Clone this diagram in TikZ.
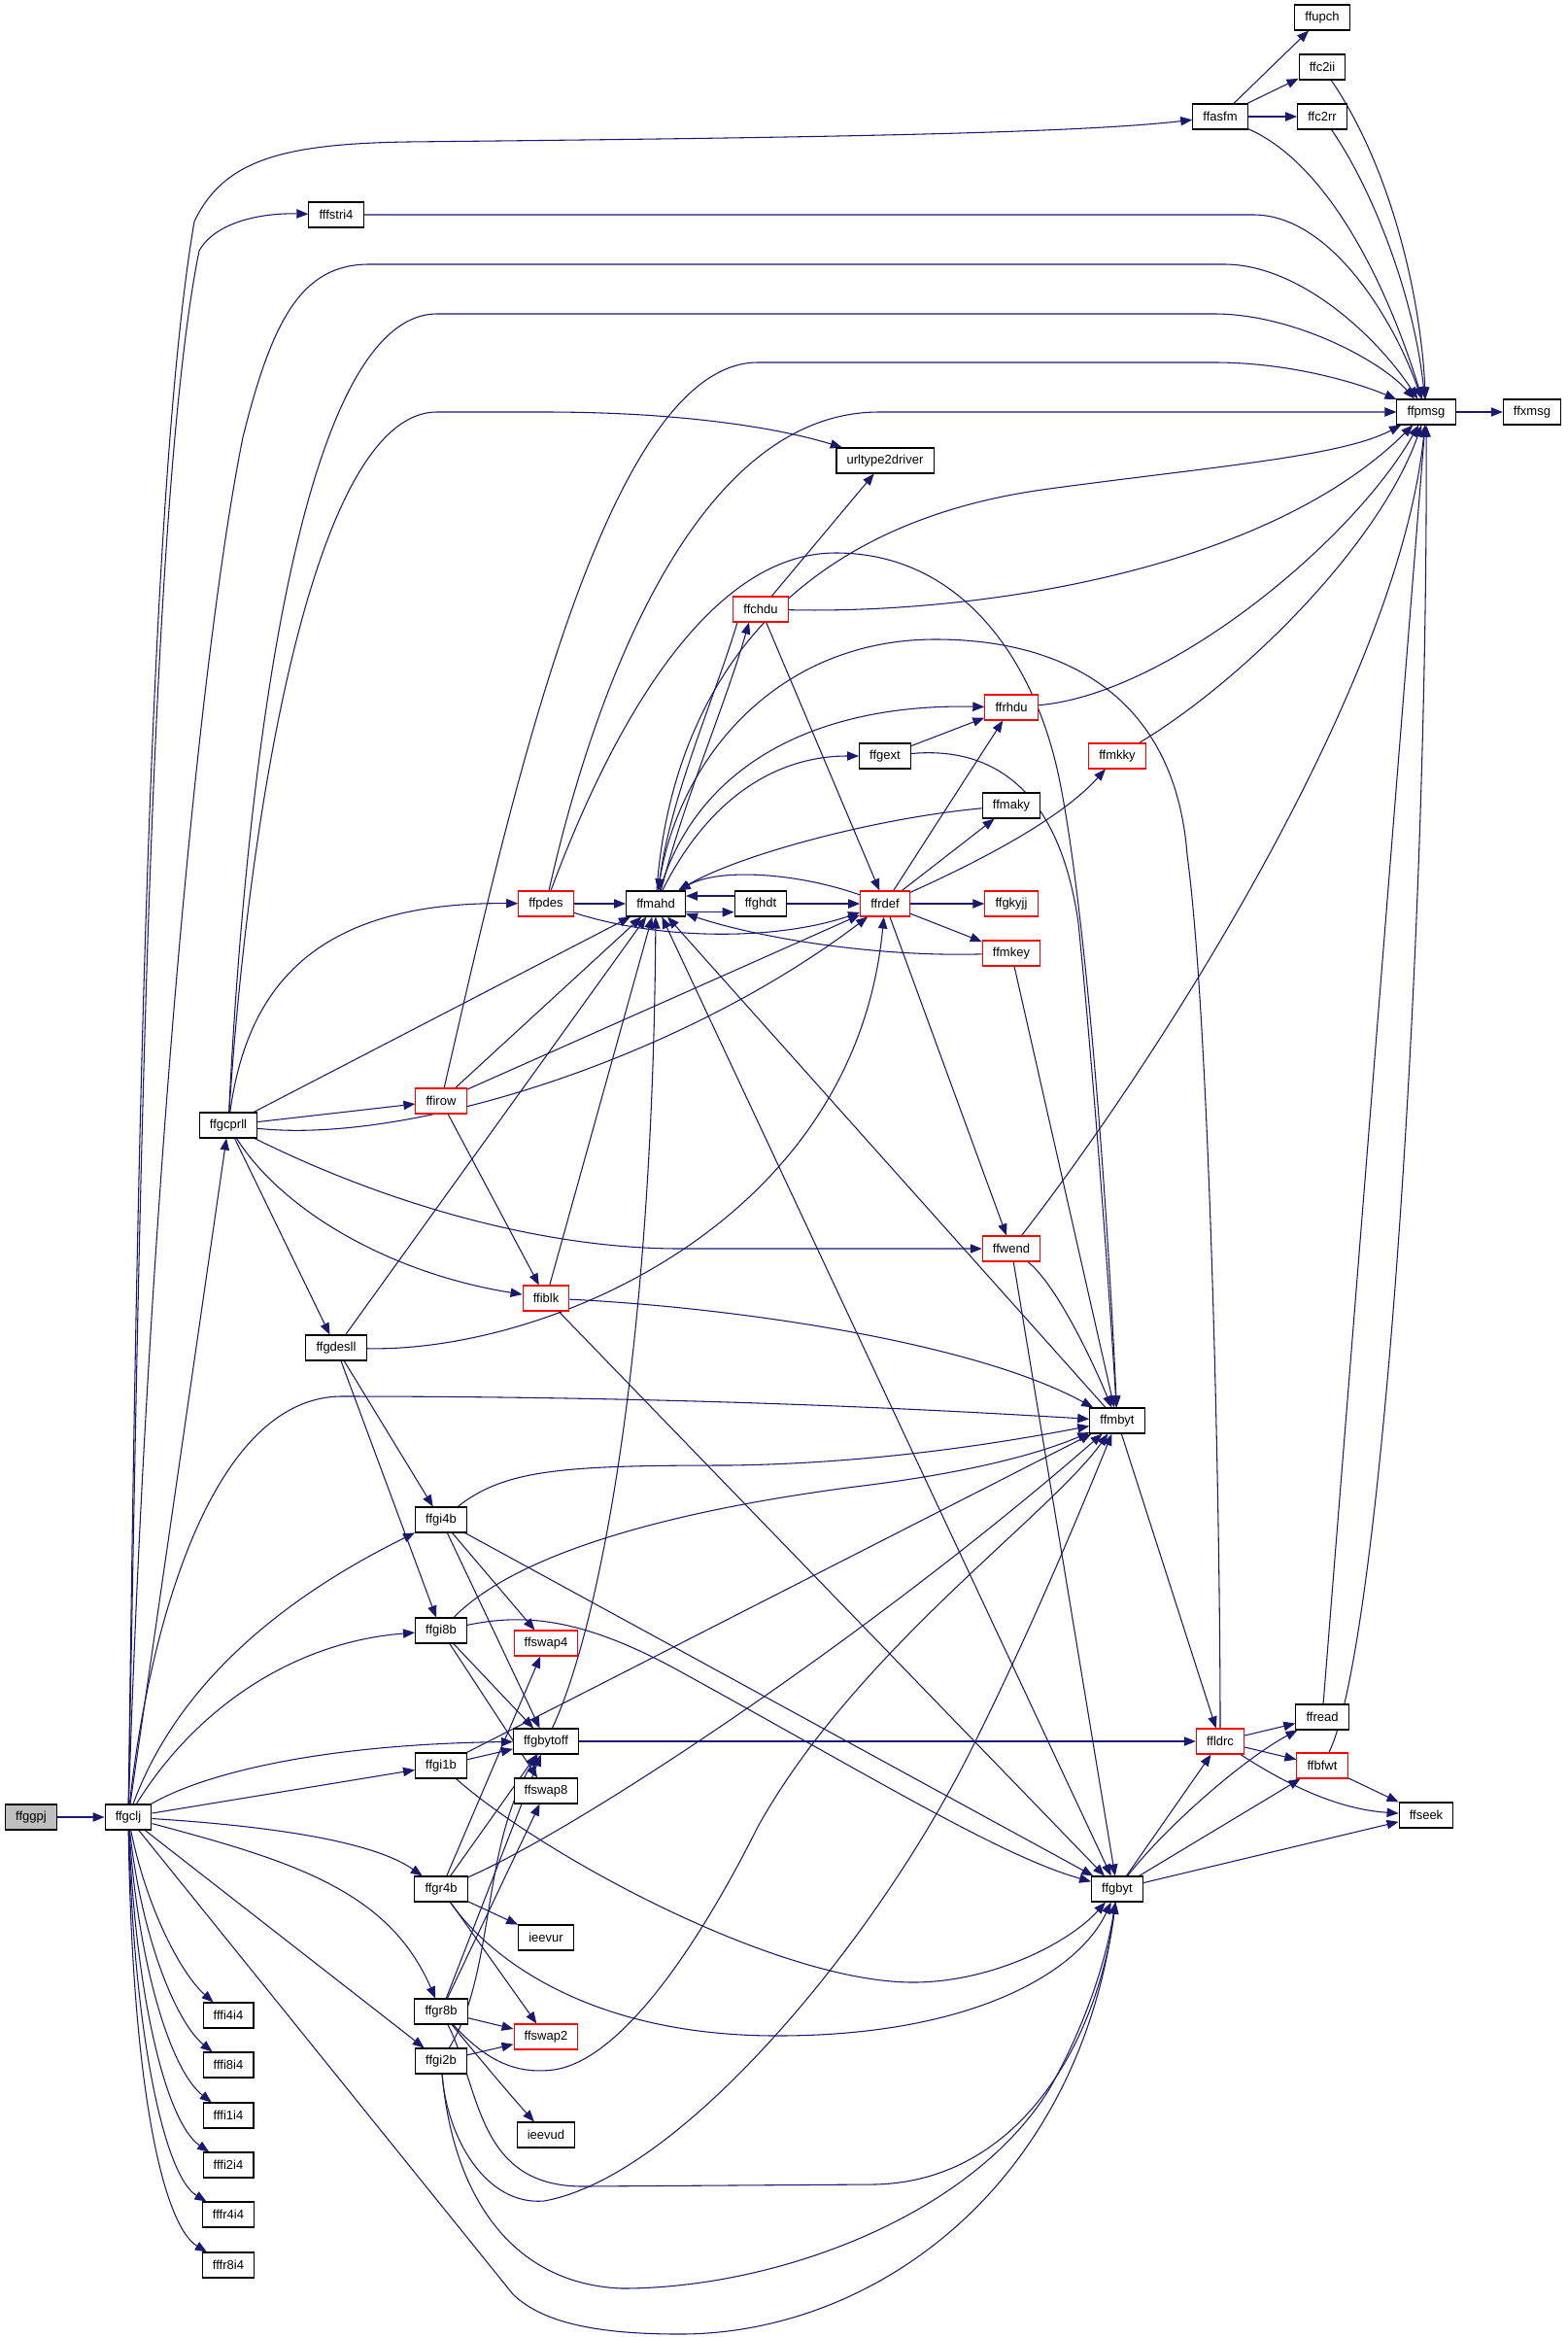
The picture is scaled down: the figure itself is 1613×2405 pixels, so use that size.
\documentclass[tikz,border=0pt]{standalone}
\usepackage{fontspec}
\setmainfont{Liberation Sans}
\usetikzlibrary{arrows.meta}
\definecolor{edgec}{HTML}{191970}
\definecolor{nodegray}{HTML}{BFBFBF}
\definecolor{nodered}{HTML}{FF0000}
\pgfdeclarelayer{back}
\pgfdeclarelayer{edges}
\pgfsetlayers{back,edges,main}
\begin{document}
\begin{tikzpicture}[x=0.75pt,y=-0.75pt,
  >={Triangle[length=9pt,width=7pt]},
  box/.style={draw=black, line width=0.8pt, fill=white, inner xsep=8pt, inner ysep=0pt,
    minimum height=19.5pt, font=\fontsize{9.75pt}{11pt}\selectfont},
  redbox/.style={box, draw=nodered},
  graybox/.style={box, fill=nodegray},
  e/.style={draw=edgec, line width=0.8pt, ->},
  ee/.style={draw=edgec, line width=0.8pt, <->}]
\useasboundingbox (0,0) rectangle (1613,2405);
\begin{pgfonlayer}{back}
\fill[white] (0,0) rectangle (1613,2405);
\end{pgfonlayer}
% ---------------- nodes ----------------
\node[graybox] (ffggpj) at (32,1870) {ffggpj};
\node[box] (ffgclj) at (132,1870) {ffgclj};
\node[box] (ffgcprll) at (235,1158) {ffgcprll};
\node[box] (fffi4i4) at (235,2074) {fffi4i4};
\node[box] (fffi8i4) at (235,2125) {fffi8i4};
\node[box] (fffi1i4) at (235,2177) {fffi1i4};
\node[box] (fffi2i4) at (235,2228) {fffi2i4};
\node[box] (fffr4i4) at (235,2279) {fffr4i4};
\node[box] (fffr8i4) at (235,2331) {fffr8i4};
\node[box] (fffstri4) at (346,221) {fffstri4};
\node[box] (ffgdesll) at (346,1387) {ffgdesll};
\node[redbox] (ffirow) at (454,1133) {ffirow};
\node[box] (ffgi4b) at (454,1564) {ffgi4b};
\node[box] (ffgi8b) at (454,1678) {ffgi8b};
\node[box] (ffgi1b) at (454,1817) {ffgi1b};
\node[box] (ffgr4b) at (454,1944) {ffgr4b};
\node[box] (ffgr8b) at (454,2070) {ffgr8b};
\node[box] (ffgi2b) at (454,2121) {ffgi2b};
\node[redbox] (ffpdes) at (562,930) {ffpdes};
\node[redbox] (ffiblk) at (562,1336) {ffiblk};
\node[redbox] (ffswap4) at (562,1691) {ffswap4};
\node[box] (ffgbytoff) at (562,1792) {ffgbytoff};
\node[box] (ffswap8) at (562,1843) {ffswap8};
\node[box] (ieevur) at (562,1994) {ieevur};
\node[redbox] (ffswap2) at (562,2096) {ffswap2};
\node[box] (ieevud) at (562,2197) {ieevud};
\node[box] (ffmahd) at (675,930) {ffmahd};
\node[redbox] (ffchdu) at (783,627) {ffchdu};
\node[box] (ffghdt) at (783,930) {ffghdt};
\node[box] (urltype2driver) at (911,474) {urltype2driver};
\node[box] (ffgext) at (911,778) {ffgext};
\node[redbox] (ffrdef) at (911,930) {ffrdef};
\node[redbox] (ffrhdu) at (1041,728) {ffrhdu};
\node[box] (ffmaky) at (1041,829) {ffmaky};
\node[redbox] (ffgkyjj) at (1041,930) {ffgkyjj};
\node[redbox] (ffmkey) at (1041,981) {ffmkey};
\node[redbox] (ffwend) at (1041,1285) {ffwend};
\node[redbox] (ffmkky) at (1150,778) {ffmkky};
\node[box] (ffmbyt) at (1150,1462) {ffmbyt};
\node[box] (ffgbyt) at (1150,1944) {ffgbyt};
\node[box] (ffasfm) at (1256,120) {ffasfm};
\node[redbox] (ffldrc) at (1256,1792) {ffldrc};
\node[box] (ffupch) at (1361,18) {ffupch};
\node[box] (ffc2ii) at (1361,69) {ffc2ii};
\node[box] (ffc2rr) at (1361,120) {ffc2rr};
\node[box] (ffread) at (1361,1767) {ffread};
\node[redbox] (ffbfwt) at (1361,1817) {ffbfwt};
\node[box] (ffpmsg) at (1468,424) {ffpmsg};
\node[box] (ffseek) at (1468,1868) {ffseek};
\node[box] (ffxmsg) at (1577,424) {ffxmsg};
% ---------------- edges ----------------
\begin{pgfonlayer}{edges}
\draw[e] (ffggpj) -- (ffgclj);
% ffgclj
\draw[e] (ffgclj) .. controls (140,1300) and (150,520) .. (200,228) .. controls (230,165) and (290,148) .. (420,146) .. controls (800,142) and (1100,138) .. (ffasfm);
\draw[e] (ffgclj) .. controls (143,1300) and (152,520) .. (205,258) .. controls (222,228) and (270,219) .. (fffstri4);
\draw[e] (ffgclj) .. controls (150,1300) and (200,700) .. (250,450) .. controls (280,330) and (310,272) .. (380,272) -- (1260,272) .. controls (1340,272) and (1420,350) .. (ffpmsg);
\draw[e] (ffgclj) -- (ffgcprll);
\draw[e] (ffgclj) .. controls (150,1700) and (210,1440) .. (350,1437) .. controls (700,1437) and (950,1450) .. (ffmbyt);
\draw[e] (ffgclj) .. controls (180,1740) and (280,1650) .. (ffgi4b);
\draw[e] (ffgclj) .. controls (200,1760) and (300,1690) .. (ffgi8b);
\draw[e] (ffgclj) .. controls (210,1825) and (330,1795) .. (ffgbytoff);
\draw[e] (ffgclj) -- (ffgi1b);
\draw[e] (ffgclj) .. controls (260,1878) and (380,1892) .. (ffgr4b);
\draw[e] (ffgclj) .. controls (300,1915) and (400,1945) .. (ffgr8b);
\draw[e] (ffgclj) -- (ffgi2b);
\draw[e] (ffgclj) -- (528,2361) .. controls (560,2392) and (620,2402) .. (700,2402) .. controls (900,2402) and (1110,2250) .. (ffgbyt);
\draw[e] (ffgclj) .. controls (150,1960) and (185,2030) .. (fffi4i4);
\draw[e] (ffgclj) .. controls (145,1990) and (180,2080) .. (fffi8i4);
\draw[e] (ffgclj) .. controls (142,2020) and (175,2130) .. (fffi1i4);
\draw[e] (ffgclj) .. controls (140,2060) and (172,2185) .. (fffi2i4);
\draw[e] (ffgclj) .. controls (138,2100) and (170,2240) .. (fffr4i4);
\draw[e] (ffgclj) .. controls (136,2150) and (168,2290) .. (fffr8i4);
% fffstri4
\draw[e] (fffstri4) -- (1290,221) .. controls (1370,221) and (1435,330) .. (ffpmsg);
% ffgcprll
\draw[e] (ffgcprll) .. controls (250,850) and (300,323) .. (450,323) -- (1250,323) .. controls (1330,323) and (1420,370) .. (ffpmsg);
\draw[e] (ffgcprll) .. controls (255,850) and (320,424) .. (450,424) -- (560,424) .. controls (700,424) and (800,440) .. (urltype2driver);
\draw[e] (ffgcprll) .. controls (255,1010) and (330,928) .. (ffpdes);
\draw[e] (ffgcprll) -- (ffmahd);
\draw[e] (ffgcprll) -- (ffirow);
\draw[e] (ffgcprll) .. controls (420,1178) and (700,1090) .. (ffrdef);
\draw[e] (ffgcprll) .. controls (400,1240) and (560,1285) .. (700,1285) -- (ffwend);
\draw[e] (ffgcprll) .. controls (290,1245) and (400,1310) .. (ffiblk);
\draw[e] (ffgcprll) -- (ffgdesll);
% ffirow
\draw[e] (ffirow) .. controls (520,850) and (620,373) .. (780,373) -- (1250,373) .. controls (1330,373) and (1400,395) .. (ffpmsg);
\draw[e] (ffirow) -- (ffmahd);
\draw[e] (ffirow) -- (ffrdef);
\draw[e] (ffirow) -- (ffiblk);
% ffiblk
\draw[e] (ffiblk) -- (ffmahd);
\draw[e] (ffiblk) .. controls (750,1345) and (1000,1380) .. (ffmbyt);
\draw[e] (ffiblk) -- (ffgbyt);
% ffgdesll
\draw[e] (ffgdesll) -- (ffmahd);
\draw[e] (ffgdesll) .. controls (560,1392) and (880,1260) .. (ffrdef);
\draw[e] (ffgdesll) -- (ffgi4b);
\draw[e] (ffgdesll) -- (ffgi8b);
% ffpdes
\draw[e] (ffpdes) -- (ffmahd);
\draw[e] (ffpdes) .. controls (680,968) and (800,968) .. (ffrdef);
\draw[e] (ffpdes) .. controls (600,760) and (700,424) .. (905,424) -- (ffpmsg);
\draw[e] (ffpdes) .. controls (640,720) and (740,569) .. (860,569) .. controls (990,569) and (1065,680) .. (1090,800) .. controls (1115,920) and (1138,1200) .. (ffmbyt);
% ffmahd
\draw[e] (ffmahd) .. controls (690,720) and (800,540) .. (1080,503) .. controls (1250,480) and (1380,470) .. (ffpmsg);
\draw[e] ([xshift=-18pt]ffchdu.south) .. controls (735,720) and (690,820) .. ([xshift=2pt]ffmahd.north);
\draw[e] ([xshift=4pt]ffmahd.north) .. controls (705,820) and (745,730) .. ([xshift=-9pt]ffchdu.south);
\draw[e] (ffmahd) .. controls (720,780) and (850,724) .. (ffrhdu);
\draw[e] (ffmahd) .. controls (730,820) and (800,778) .. (ffgext);
\draw[e] ([yshift=-6.5pt]ffmahd.east) -- ([yshift=-6.5pt]ffghdt.west);
\draw[e] ([yshift=6pt]ffghdt.west) -- ([yshift=6pt]ffmahd.east);
\draw[e] (ffmbyt) -- (ffmahd);
\draw[ee] (ffgbyt) -- (ffmahd);
% ffghdt / ffrdef
\draw[e] (ffghdt) -- (ffrdef);
\draw[e] (ffrdef) .. controls (820,898) and (740,893) .. (ffmahd);
\draw[e] (ffrdef) -- (ffrhdu);
\draw[e] (ffrdef) -- (ffmaky);
\draw[e] (ffrdef) .. controls (1000,890) and (1090,845) .. (ffmkky);
\draw[e] (ffrdef) -- (ffgkyjj);
\draw[e] (ffrdef) -- (ffmkey);
\draw[e] (ffrdef) -- (ffwend);
% ffchdu
\draw[e] (ffchdu) -- (urltype2driver);
\draw[e] (ffchdu) -- (ffrdef);
\draw[e] (ffchdu) .. controls (1000,632) and (1300,590) .. (ffpmsg);
% ffgext, ffrhdu, ffmaky, ffmkey, ffmkky
\draw[e] (ffgext) -- (ffrhdu);
\draw[e] (ffgext) .. controls (1020,768) and (1090,810) .. (1110,950) .. controls (1125,1100) and (1140,1300) .. (ffmbyt);
\draw[e] (ffrhdu) .. controls (1200,715) and (1390,560) .. (ffpmsg);
\draw[e] (ffmaky) .. controls (900,842) and (760,880) .. (ffmahd);
\draw[e] (ffmkey) .. controls (900,985) and (780,965) .. (ffmahd);
\draw[e] (ffmkey) -- (ffmbyt);
\draw[e] (ffmkky) .. controls (1280,700) and (1420,560) .. (ffpmsg);
% ffwend
\draw[e] (ffwend) .. controls (1200,1080) and (1440,700) .. (ffpmsg);
\draw[e] (ffwend) .. controls (1085,1320) and (1120,1390) .. (ffmbyt);
\draw[e] (ffwend) -- (ffgbyt);
% ffmbyt, ffldrc
\draw[e] (ffmbyt) -- (ffldrc);
\draw[e] (ffldrc) .. controls (1256,1550) and (1245,1050) .. (1222,880) .. controls (1210,720) and (1100,658) .. (963,658) .. controls (800,658) and (700,780) .. (ffmahd);
\draw[e] (ffldrc) -- (ffread);
\draw[e] (ffldrc) -- (ffbfwt);
\draw[e] (ffldrc) .. controls (1330,1840) and (1380,1862) .. (ffseek);
% ffgbytoff
\draw[e] (ffgbytoff) .. controls (615,1680) and (672,1400) .. (ffmahd);
\draw[e] (ffgbytoff) -- (ffldrc);
% ffgi4b
\draw[e] (ffgi4b) .. controls (520,1512) and (580,1508) .. (750,1508) .. controls (900,1506) and (1030,1485) .. (ffmbyt);
\draw[e] (ffgi4b) -- (ffswap4);
\draw[e] (ffgi4b) -- (ffgbytoff);
\draw[e] (ffgi4b) -- (ffgbyt);
% ffgi8b
\draw[e] (ffgi8b) .. controls (520,1610) and (650,1560) .. (880,1530) .. controls (980,1518) and (1060,1500) .. (ffmbyt);
\draw[e] (ffgi8b) .. controls (540,1660) and (600,1665) .. (700,1720) .. controls (900,1830) and (1030,1910) .. (ffgbyt);
\draw[e] (ffgi8b) -- (ffgbytoff);
\draw[e] (ffgi8b) -- (ffswap8);
% ffgi1b
\draw[e] (ffgi1b) -- (ffgbytoff);
\draw[e] (ffgi1b) -- (ffmbyt);
\draw[e] (ffgi1b) .. controls (560,1910) and (800,2040) .. (940,2040) .. controls (1020,2040) and (1100,2000) .. (ffgbyt);
% ffgr4b
\draw[e] (ffgr4b) -- (ffswap4);
\draw[e] (ffgr4b) -- (ffgbytoff);
\draw[e] (ffgr4b) .. controls (600,1880) and (900,1680) .. (ffmbyt);
\draw[e] (ffgr4b) -- (ieevur);
\draw[e] (ffgr4b) -- (ffswap2);
\draw[e] (ffgr4b) .. controls (500,2010) and (600,2095) .. (800,2095) .. controls (1000,2095) and (1110,2030) .. (ffgbyt);
% ffgr8b
\draw[e] (ffgr8b) -- (ffgbytoff);
\draw[e] (ffgr8b) -- (ffswap8);
\draw[e] (ffgr8b) -- (ffswap2);
\draw[e] (ffgr8b) .. controls (495,2120) and (520,2150) .. (ieevud);
\draw[e] (ffgr8b) .. controls (500,2120) and (530,2135) .. (570,2130) .. controls (640,2120) and (720,2000) .. (780,1880) .. controls (880,1700) and (1080,1560) .. (ffmbyt);
\draw[e] (ffgr8b) .. controls (495,2150) and (490,2250) .. (600,2250) -- (900,2248) .. controls (1050,2245) and (1130,2100) .. (ffgbyt);
% ffgi2b
\draw[e] (ffgi2b) -- (ffswap2);
\draw[e] (ffgi2b) .. controls (510,2030) and (495,1900) .. (ffgbytoff);
\draw[e] (ffgi2b) .. controls (460,2200) and (500,2270) .. (560,2265) .. controls (700,2240) and (900,2000) .. (1000,1800) .. controls (1060,1680) and (1110,1560) .. (ffmbyt);
\draw[e] (ffgi2b) .. controls (465,2250) and (520,2350) .. (640,2355) .. controls (800,2355) and (1000,2280) .. (1080,2150) .. controls (1120,2080) and (1140,2010) .. (ffgbyt);
% ffgbyt
\draw[e] (ffgbyt) -- (ffldrc);
\draw[e] (ffgbyt) .. controls (1200,1880) and (1280,1810) .. (ffread);
\draw[e] (ffgbyt) -- (ffbfwt);
\draw[e] (ffgbyt) -- (ffseek);
% right side
\draw[e] (ffread) -- (ffpmsg);
\draw[e] (ffbfwt) .. controls (1420,1700) and (1470,1000) .. (ffpmsg);
\draw[e] (ffbfwt) -- (ffseek);
\draw[e] (ffasfm) -- (ffupch);
\draw[e] (ffasfm) -- (ffc2ii);
\draw[e] (ffasfm) -- (ffc2rr);
\draw[e] (ffasfm) .. controls (1370,170) and (1430,300) .. (ffpmsg);
\draw[e] (ffc2ii) .. controls (1430,170) and (1462,300) .. (ffpmsg);
\draw[e] (ffc2rr) .. controls (1410,190) and (1455,300) .. (ffpmsg);
\draw[e] (ffpmsg) -- (ffxmsg);
\end{pgfonlayer}
\end{tikzpicture}
\end{document}
